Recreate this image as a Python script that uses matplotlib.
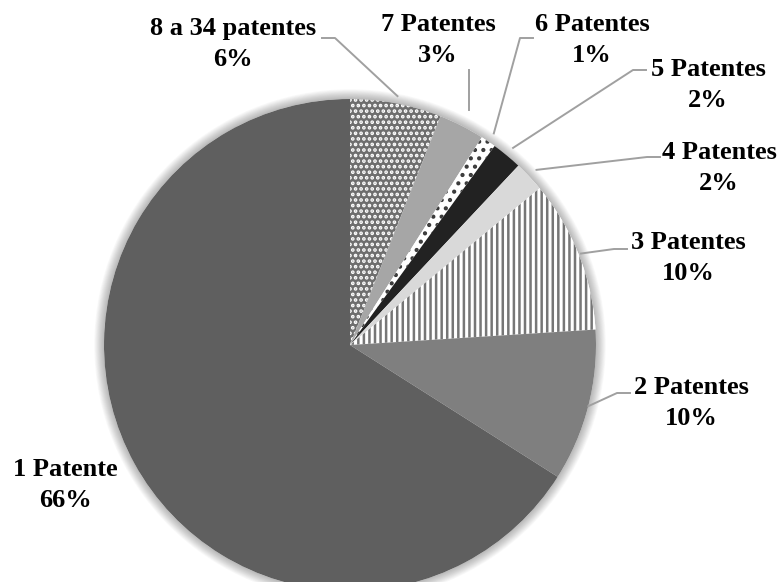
import numpy as np
import matplotlib
matplotlib.use('Agg')
import matplotlib.pyplot as plt
from matplotlib.patches import Circle

labels = ['8 a 34 patentes', '7 Patentes', '6 Patentes', '5 Patentes',
          '4 Patentes', '3 Patentes', '2 Patentes', '1 Patente']
values = [6, 3, 1, 2, 2, 10, 10, 66]

faces = ['#6e6e6e', '#a6a6a6', 'white', '#222222', '#d9d9d9', 'white', '#7f7f7f', '#5f5f5f']
hatch_cols = ['white', '#a6a6a6', '#3a3a3a', '#222222', '#d9d9d9', '#767676', '#7f7f7f', '#5f5f5f']
hatches = ['...', None, '..', None, None, '|||', None, None]

# label text centre (pixels from top-left), leader knee and how far out the leader starts
label_pos = [(233, 44), (438, 40), (592, 40), (708, 85), (719, 168), (688, 258), (691, 403), (65, 485)]
leader_knee = [(335, 38), None, (520, 38), (633, 70), (647, 157), (614, 249), (617, 393), None]
leader_r = [1.03, 1.07, 1.04, 1.04, 1.04, 1.01, 1.0, None]

H = 582
cx, cy, R = 350, H - 345, 246

plt.rcParams['font.family'] = ['Liberation Serif', 'DejaVu Serif']
plt.rcParams['hatch.linewidth'] = 1.8

fig = plt.figure(figsize=(7.8, 5.82), dpi=100)
ax = fig.add_axes([0, 0, 1, 1])

# soft shadow round the pie
for k in range(12):
    ax.add_patch(Circle((cx, cy), R + 1 + k * 0.8, color='black', alpha=0.025, lw=0, zorder=0))
ax.add_patch(Circle((cx, cy), R, color='white', lw=0, zorder=0.5))

wedges, _ = ax.pie(values, startangle=90, counterclock=False, center=(cx, cy), radius=R,
                   colors=faces, wedgeprops=dict(linewidth=0))
for w, ec, h in zip(wedges, hatch_cols, hatches):
    w.set_edgecolor(ec)
    w.set_linewidth(0)
    w.set_zorder(1)
    if h:
        w.set_hatch(h)

total = sum(values)
for w, lab, v, pos, knee, rf in zip(wedges, labels, values, label_pos, leader_knee, leader_r):
    ax.text(pos[0], H - pos[1], f'{lab}\n{v / total:.0%}', ha='center', va='center',
            fontsize=19, fontweight='bold', linespacing=1.4, zorder=5)
    if rf is None:
        continue
    mid = np.deg2rad((w.theta1 + w.theta2) / 2)
    px, py = cx + rf * R * np.cos(mid), cy + rf * R * np.sin(mid)
    if knee is None:
        ax.plot([px, px], [py, H - 70], color='#a0a0a0', lw=1.4, zorder=4)
    else:
        kx, ky = knee[0], H - knee[1]
        side = -1 if kx < px else 1
        ax.plot([px, kx, kx + side * 13], [py, ky, ky], color='#a0a0a0', lw=1.4, zorder=4)

ax.set_xlim(0, 780)
ax.set_ylim(0, H)
ax.set_aspect('auto')
ax.axis('off')
fig.savefig('out.png', dpi=100)
